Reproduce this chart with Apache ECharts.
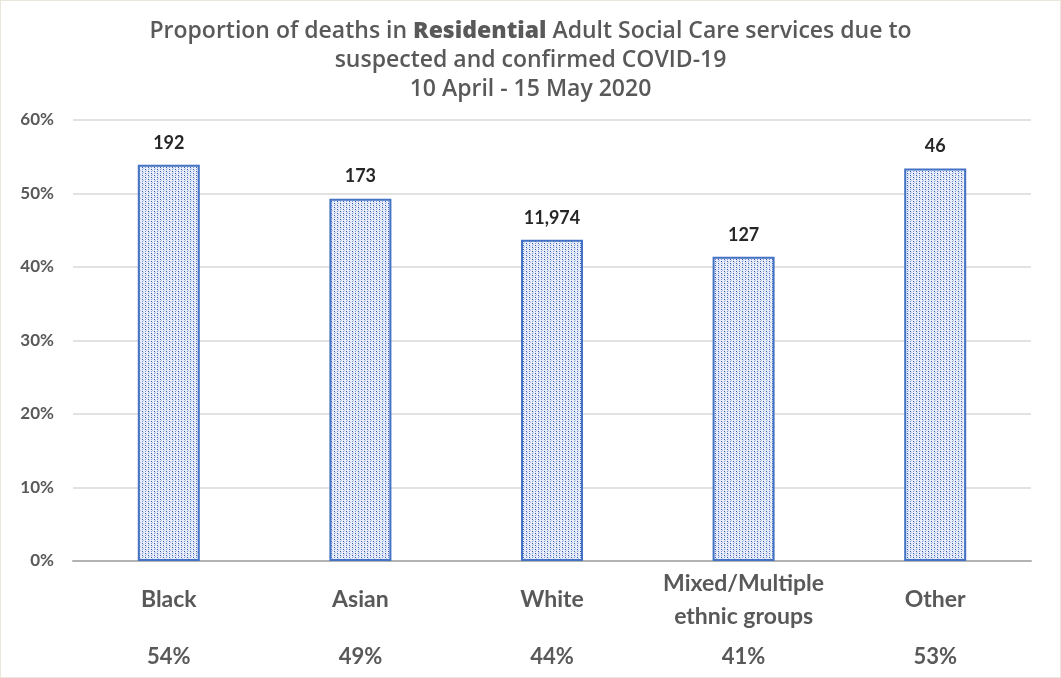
<!DOCTYPE html>
<html>
<head>
<meta charset="utf-8">
<script src="https://cdn.jsdelivr.net/npm/echarts@6/dist/echarts.min.js"></script>
<style>
  html, body { margin: 0; padding: 0; background: #ffffff; }
  #chart { width: 1059px; height: 676px; border: 1px solid #ebe6da; }
</style>
</head>
<body>
<div id="chart"></div>
<script>
// Ethnic groups, share of deaths due to COVID-19 (%), and number of deaths
const categories = ['Black', 'Asian', 'White', 'Mixed/Multiple\nethnic groups', 'Other'];
const proportions = [53.9, 49.3, 43.7, 41.4, 53.4];
const deathCounts = ['192', '173', '11,974', '127', '46'];
const tickLabels = ['0%', '10%', '20%', '30%', '40%', '50%', '60%'];

const FONT = 'Lato, "Open Sans", sans-serif';
const TITLE_FONT = '"Open Sans", Lato, sans-serif';
const GREY = '#595959';

// Dotted hatch fill for the columns
function makePattern() {
  const c = document.createElement('canvas');
  c.width = 6; c.height = 4;
  const g = c.getContext('2d');
  g.fillStyle = '#e9eef9';
  g.fillRect(0, 0, 6, 4);
  g.fillStyle = '#2f58b0';
  g.fillRect(0, 0, 1, 1);
  g.fillRect(3, 2, 1, 1);
  g.fillStyle = '#7d97d2';
  g.fillRect(0, 2, 1, 1);
  g.fillRect(3, 0, 1, 1);
  g.fillStyle = '#b6c6ea';
  g.fillRect(1, 1, 1, 1);
  g.fillRect(4, 3, 1, 1);
  return c;
}

const chart = echarts.init(document.getElementById('chart'), null, { renderer: 'canvas' });

chart.setOption({
  backgroundColor: '#ffffff',
  animation: false,
  title: {
    left: 'center',
    top: 11,
    text: '{n|Proportion of deaths in }{b|Residential}{n| Adult Social Care services due to}\n{n|suspected and confirmed COVID-19}\n{n|10 April - 15 May 2020}',
    textStyle: {
      fontWeight: 'normal',
      rich: {
        n: { fontFamily: TITLE_FONT, fontSize: 23, fontWeight: 600, color: GREY, lineHeight: 29 },
        b: { fontFamily: TITLE_FONT, fontSize: 23, fontWeight: 800, color: GREY, lineHeight: 29 }
      }
    }
  },
  grid: { left: 72, right: 29, top: 119, bottom: 116 },
  xAxis: [
    {
      type: 'category',
      data: categories,
      axisLine: { lineStyle: { color: '#b3b3b3', width: 2 } },
      axisTick: { show: false },
      axisLabel: {
        fontFamily: FONT, fontSize: 23, fontWeight: 'bold', color: GREY,
        lineHeight: 33, verticalAlign: 'middle', margin: 39, interval: 0
      }
    },
    {
      type: 'category',
      position: 'bottom',
      data: proportions.map(v => Math.round(v) + '%'),
      axisLine: { show: false },
      axisTick: { show: false },
      axisLabel: {
        fontFamily: FONT, fontSize: 22, fontWeight: 'bold', color: GREY,
        verticalAlign: 'middle', margin: 96, interval: 0
      }
    }
  ],
  yAxis: {
    type: 'value',
    min: 0, max: 60, interval: 10,
    axisLine: { show: false },
    axisTick: { show: false },
    splitLine: { lineStyle: { color: '#d9d9d9', width: 1.5 } },
    axisLabel: {
      fontFamily: FONT, fontSize: 17, fontWeight: 'bold', color: GREY, margin: 19,
      formatter: (v) => tickLabels[Math.round(v / 10)]
    }
  },
  series: [{
    type: 'bar',
    xAxisIndex: 0,
    data: proportions,
    barWidth: 62,
    itemStyle: {
      color: { image: makePattern(), repeat: 'repeat' },
      borderColor: '#4472c4',
      borderWidth: 2
    },
    label: {
      show: true,
      position: 'top',
      distance: 13,
      fontFamily: FONT, fontSize: 18, fontWeight: 'bold', color: '#262626',
      formatter: (p) => deathCounts[p.dataIndex]
    }
  }]
});
</script>
</body>
</html>
